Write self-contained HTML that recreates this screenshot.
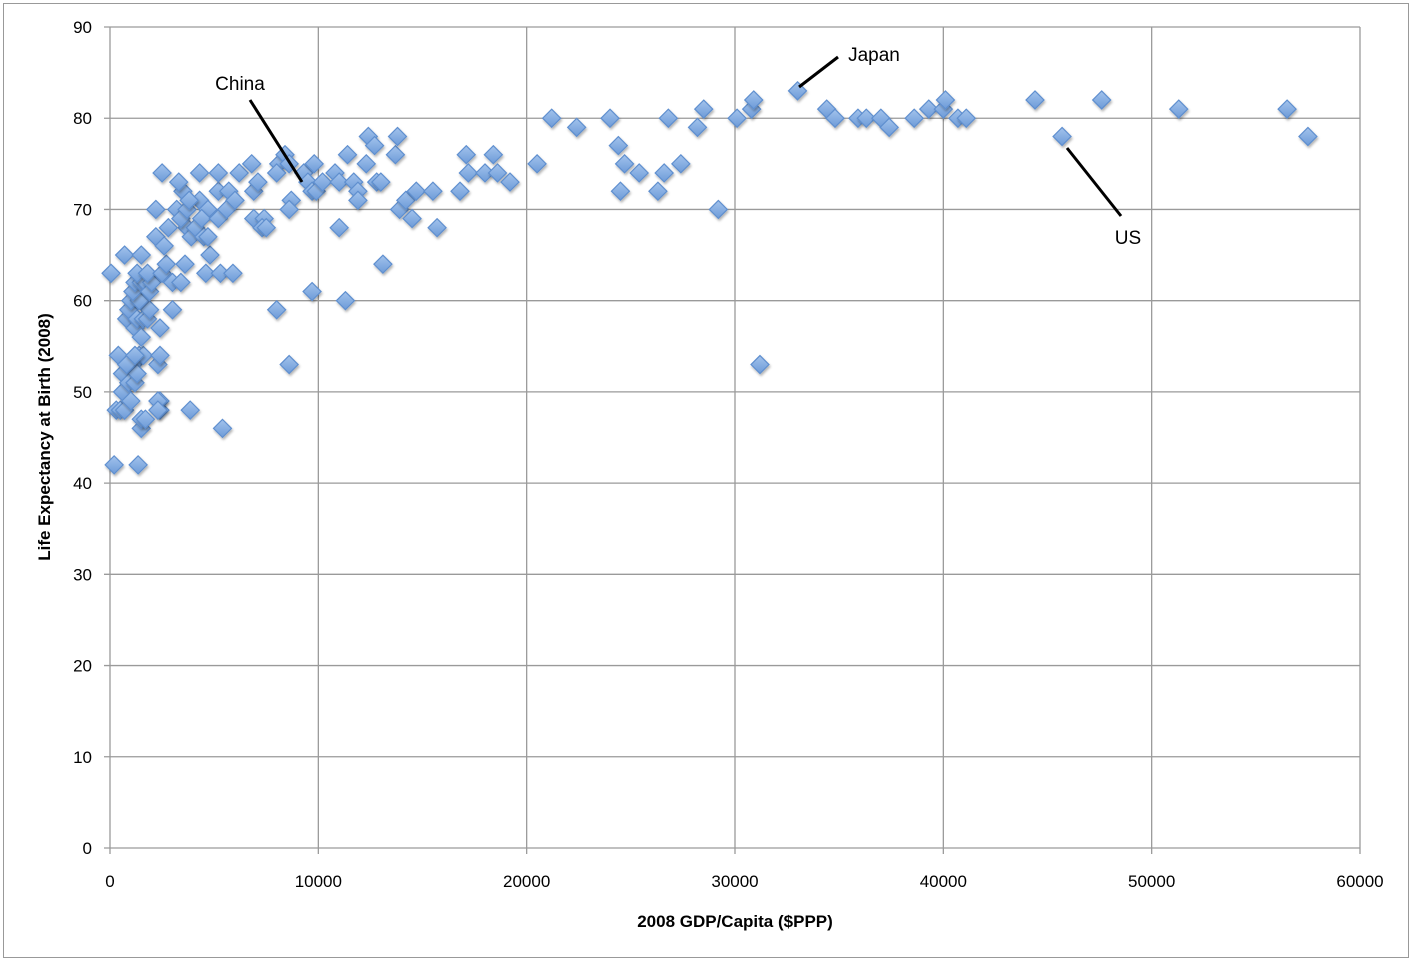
<!DOCTYPE html>
<html><head><meta charset="utf-8"><style>
body{margin:0;background:#fff;}
svg{display:block;font-family:"Liberation Sans",Arial,sans-serif;}
</style></head><body>
<svg id="chart" width="1412" height="961" viewBox="0 0 1412 961">
<defs>
<linearGradient id="dg" x1="0" y1="0" x2="0" y2="1"><stop offset="0" stop-color="#a3c3ec"/><stop offset="1" stop-color="#6d9bd8"/></linearGradient>
<filter id="sh" x="-50%" y="-50%" width="200%" height="200%"><feDropShadow dx="1" dy="2" stdDeviation="1.2" flood-color="#000" flood-opacity="0.3"/></filter>
</defs>
<rect x="3.5" y="3.5" width="1405" height="954" fill="#fff" stroke="#999" stroke-width="1"/>
<g id="grid"></g>
<g id="ticks"></g>
<g id="points"></g>
<g id="notes"></g>
<text transform="translate(50,437) rotate(-90)" text-anchor="middle" font-size="17" font-weight="bold">Life Expectancy at Birth (2008)</text>
<text x="735" y="927" text-anchor="middle" font-size="17" font-weight="bold">2008 GDP/Capita ($PPP)</text>
</svg>
<script>
const xTicks=[0,10000,20000,30000,40000,50000,60000];
const yTicks=[0,10,20,30,40,50,60,70,80,90];
const gdp=[50,200,1350,1500,5400,3850,2400,2400,300,500,700,600,400,600,900,1000,1200,1100,1300,800,1400,1600,1200,2300,2400,2300,2300,1500,1700,800,900,1000,1200,1300,1500,1600,1800,1900,1400,1100,1200,1500,1700,1900,2000,1300,1800,700,1500,2400,3000,2500,3000,3400,2700,3600,4600,5300,5900,4800,2200,2600,2800,3700,3900,4100,4500,4700,2200,3200,3400,3700,4300,4700,4400,5200,5600,5200,5700,6000,3500,3800,3300,4300,5200,2500,6200,6800,6900,7100,6900,7400,7300,7500,8100,8000,8400,8600,8700,8600,9300,9500,9800,9700,9900,10200,10800,11000,11400,11700,11900,11900,12300,12400,12700,12800,13000,13700,13800,13900,14200,14500,14700,15500,15700,16800,17100,17200,18000,18400,18600,19200,11000,13100,11300,9700,8000,8600,20500,21200,22400,24000,24400,24500,24700,25400,26300,26600,26800,27400,28200,28500,29200,30100,30800,30900,31200,33000,34400,34800,35900,36300,37000,37400,38600,39300,40000,40100,40700,41100,44400,45700,47600,51300,56500,57500];
const life=[63,42,42,46,46,48,48,49,48,48,48,50,54,52,51,49,51,53,52,53,54,54,54,53,54,49,48,47,47,58,59,60,57,58,56,58,58,59,60,61,62,62,62,61,62,63,63,65,65,57,59,63,62,62,64,64,63,63,63,65,67,66,68,68,67,68,67,67,70,70,69,70,71,70,69,69,70,72,72,71,72,71,73,74,74,74,74,75,72,73,69,69,68,68,75,74,76,75,71,70,74,73,75,72,72,73,74,73,76,73,72,71,75,78,77,73,73,76,78,70,71,69,72,72,68,72,76,74,74,76,74,73,68,64,60,61,59,53,75,80,79,80,77,72,75,74,72,74,80,75,79,81,70,80,81,82,53,83,81,80,80,80,80,79,80,81,81,82,80,80,82,78,82,81,81,78];
const NS='http://www.w3.org/2000/svg';
const X0=110,X1=1360,Y0=848,Y1=27;
const sx=v=>X0+(v-0)/(60000)*(X1-X0);
const sy=v=>Y0-(v/90)*(Y0-Y1);
function mk(t,a,p){const e=document.createElementNS(NS,t);for(const k in a)e.setAttribute(k,a[k]);p.appendChild(e);return e;}
const grid=document.getElementById('grid'),ticks=document.getElementById('ticks'),pts=document.getElementById('points'),notes=document.getElementById('notes');
xTicks.forEach(v=>{
 const l=mk('line',{x1:sx(v),x2:sx(v),y1:Y1,y2:Y0+6,stroke:'#9a9a9a','stroke-width':1.3},grid);
 
 
 const t=mk('text',{x:sx(v),y:887,'text-anchor':'middle','font-size':17},ticks);
 t.textContent=v;
 
 
});
yTicks.forEach(v=>{
 const l=mk('line',{x1:X0-6,x2:X1,y1:sy(v),y2:sy(v),stroke:'#9a9a9a','stroke-width':1.3},grid);
 
 
 const t=mk('text',{x:92,y:sy(v)+6,'text-anchor':'end','font-size':17},ticks);
 t.textContent=v;
 
 
});
gdp.forEach((g,i)=>{
 const cx=sx(g),cy=sy(life[i]),r=9;
 const p=mk('polygon',{points:`${cx},${cy-r} ${cx+r},${cy} ${cx},${cy+r} ${cx-r},${cy}`,fill:'url(#dg)',stroke:'#5f8fcf','stroke-width':1.2,filter:'url(#sh)'},pts);
 
 
});
const ann=[["China",240,90,250,100,302,182,"china-label"],["Japan",874,61,838,57,799,87,"japan-label"],["US",1128,244,1067,148,1121,216,"us-label"]];
ann.forEach(a=>{
 const l=mk('line',{x1:a[3],y1:a[4],x2:a[5],y2:a[6],stroke:'#000','stroke-width':3},notes);
 
 
 const t=mk('text',{x:a[1],y:a[2],'text-anchor':'middle','font-size':19},notes);
 t.textContent=a[0];
 
 
});
</script>
</body></html>
